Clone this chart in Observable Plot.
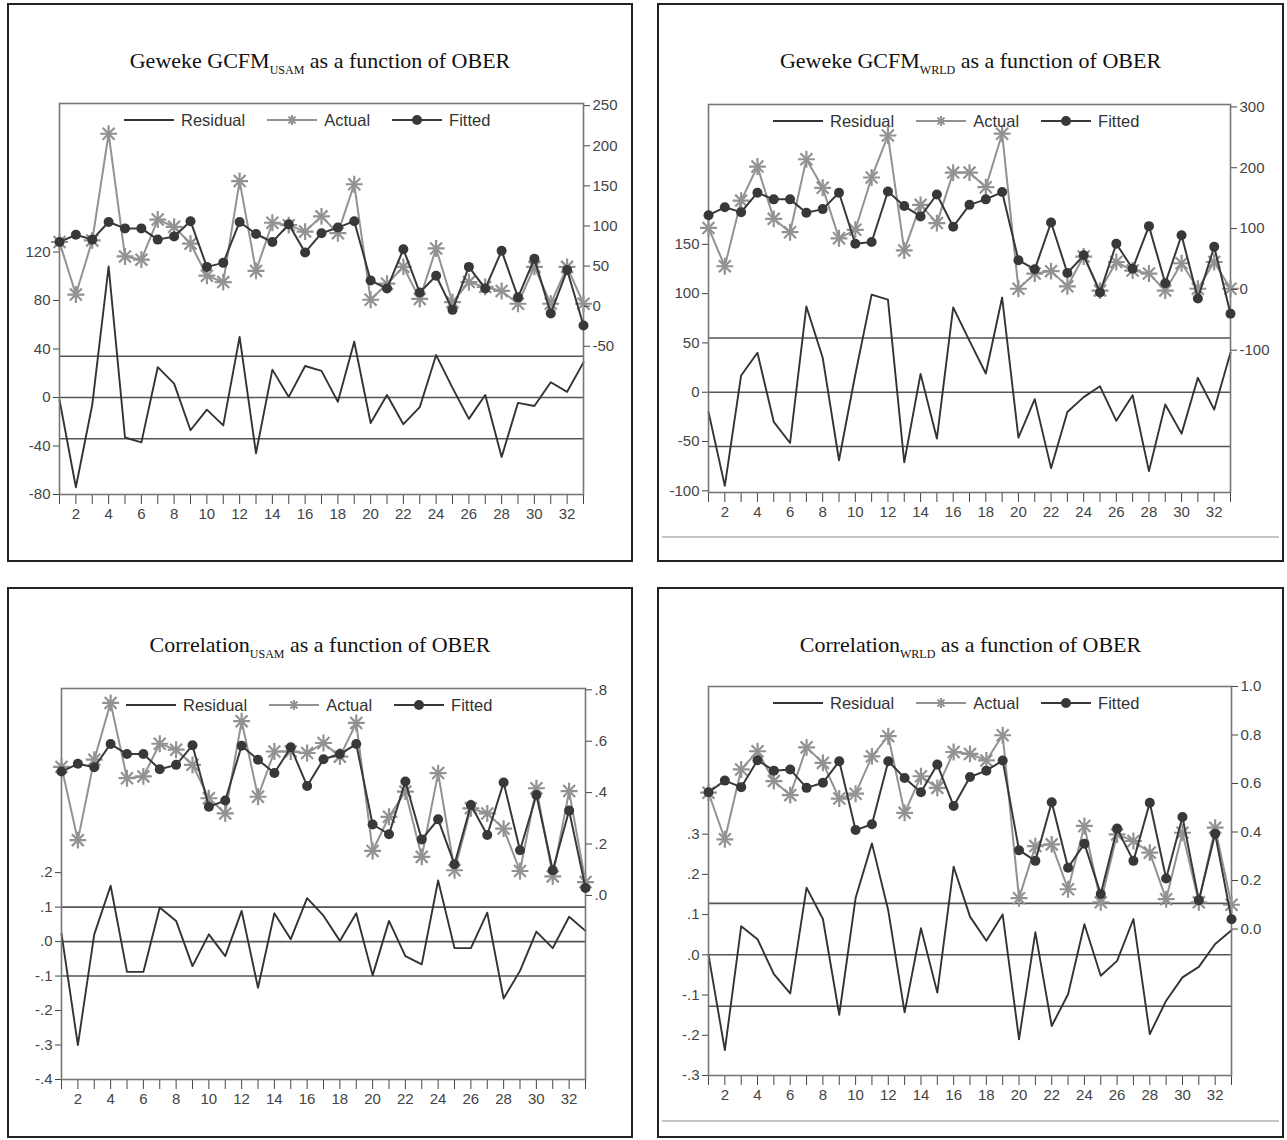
<!DOCTYPE html>
<html><head><meta charset="utf-8">
<script src="https://cdn.jsdelivr.net/npm/d3@7"></script>
<script src="https://cdn.jsdelivr.net/npm/@observablehq/plot@0.6"></script>
<style>
body{margin:0;background:#fff;}
#page{position:relative;width:1287px;height:1140px;overflow:hidden;background:#fff;}
.box{position:absolute;border:2.5px solid #222;box-sizing:border-box;}
.title{position:absolute;text-align:center;font-family:"Liberation Serif","Times New Roman",serif;font-size:22px;color:#111;line-height:26px;white-space:nowrap;}
.title sub{font-size:12px;vertical-align:-6px;line-height:0;}
.layer{position:absolute;}
.layer svg{max-width:none;overflow:visible;display:block;}
.legend{position:absolute;font-family:"Liberation Sans",Arial,sans-serif;font-size:16.5px;color:#333;white-space:nowrap;display:flex;align-items:center;height:20px;}
.legend span.t{margin-left:7px;margin-right:22px;}
.gray{position:absolute;height:2px;background:#c4c4c4;}
</style></head><body><div id="page"></div>
<script>
// ---------- categories ----------
const obs = [1,2,3,4,5,6,7,8,9,10,11,12,13,14,15,16,17,18,19,20,21,22,23,24,25,26,27,28,29,30,31,32,33];

// ---------- Geweke GCFM USAM ----------
const gewekeUsamActual   = [80,14.5,82,215,62,58,108,99,78,38,30,156,44,104,101,93,112,91,152,8,28,49,9,72,5,30,24,19,3,49,3,49,3];
const gewekeUsamFitted   = [80,89,83,105,97,97,83,87,106,49,54,105,90,80,102,67,91,98,106,32,22,71,17,38,-4.6,49,22,69,11,59,-9,45,-24];
const gewekeUsamResidual = [-2,-74,-6,108,-33,-37,25,11.5,-27,-10,-23,50,-46,23,0.5,26,22,-3.6,46,-21,2,-22,-8,35,8,-17.6,2,-49,-4.4,-7,12.6,4.7,29];
const gewekeUsamSE = 34;
const gewekeUsamLeftTicks  = [-80,-40,0,40,80,120];
const gewekeUsamRightTicks = [-50,0,50,100,150,200,250];

// ---------- Geweke GCFM WRLD ----------
const gewekeWrldActual   = [101,38,146,202,116,94,214,167,84,98,184,253,64,139,109,192,192,168,256,1,26,30,5,54,-2,45,31,26,-2,43,1,45,1];
const gewekeWrldFitted   = [122,135,127,159,148,148,126,132,159,75,78,161,137,120,156,103,139,148,160,48,33,110,27,56,-5,75,34,104,10,89,-15,70,-40];
const gewekeWrldResidual = [-20,-95,17,40,-30,-51.5,87,35,-69,18,99,94,-71,18.6,-47,86,52,19,96,-46,-7,-77,-20,-5,6,-29,-3,-80,-12.5,-42,14.6,-17.6,40];
const gewekeWrldSE = 55;
const gewekeWrldLeftTicks  = [-100,-50,0,50,100,150];
const gewekeWrldRightTicks = [-100,0,100,200,300];

// ---------- Correlation USAM ----------
const corrUsamActual   = [0.50,0.215,0.528,0.749,0.456,0.463,0.59,0.567,0.508,0.378,0.319,0.678,0.384,0.56,0.56,0.554,0.593,0.54,0.671,0.173,0.306,0.404,0.15,0.476,0.098,0.339,0.319,0.26,0.095,0.417,0.074,0.406,0.052];
const corrUsamFitted   = [0.482,0.512,0.499,0.589,0.55,0.55,0.491,0.508,0.584,0.345,0.369,0.582,0.528,0.476,0.576,0.426,0.53,0.55,0.589,0.276,0.238,0.443,0.218,0.296,0.121,0.352,0.235,0.439,0.176,0.391,0.098,0.33,0.029];
const corrUsamResidual = [0.023,-0.30,0.021,0.162,-0.088,-0.088,0.099,0.06,-0.071,0.021,-0.042,0.089,-0.134,0.082,0.007,0.126,0.075,0.002,0.082,-0.098,0.06,-0.042,-0.066,0.177,-0.019,-0.019,0.084,-0.165,-0.085,0.029,-0.019,0.072,0.031];
const corrUsamSE = 0.1;
const corrUsamLeftTicks  = [-0.4,-0.3,-0.2,-0.1,0,0.1,0.2];
const corrUsamRightTicks = [0,0.2,0.4,0.6,0.8];

// ---------- Correlation WRLD ----------
const corrWrldActual   = [0.562,0.37,0.658,0.733,0.61,0.552,0.749,0.685,0.538,0.558,0.712,0.795,0.479,0.63,0.582,0.73,0.722,0.695,0.799,0.127,0.342,0.349,0.164,0.425,0.11,0.39,0.363,0.315,0.123,0.397,0.11,0.418,0.10];
const corrWrldFitted   = [0.564,0.612,0.585,0.696,0.653,0.658,0.582,0.603,0.692,0.408,0.432,0.692,0.623,0.564,0.678,0.507,0.627,0.653,0.695,0.325,0.281,0.523,0.253,0.352,0.144,0.414,0.281,0.521,0.208,0.462,0.119,0.393,0.04];
const corrWrldResidual = [0.0,-0.237,0.071,0.039,-0.048,-0.096,0.167,0.089,-0.149,0.141,0.277,0.11,-0.143,0.066,-0.094,0.219,0.095,0.035,0.1,-0.21,0.056,-0.177,-0.098,0.076,-0.052,-0.015,0.089,-0.197,-0.114,-0.056,-0.03,0.027,0.061];
const corrWrldSE = 0.128;
const corrWrldLeftTicks  = [-0.3,-0.2,-0.1,0,0.1,0.2,0.3];
const corrWrldRightTicks = [0,0.2,0.4,0.6,0.8,1.0];

// ---------- formats ----------
const fmtInt = d => String(d);
const fmtEviews = d => (d < 0 ? "-" : "") + "." + Math.round(Math.abs(d) * 10);
const fmt1 = d3.format(".1f");
const evenLabel = d => d % 2 === 0 ? String(d) : "";

// ---------- panels (data + layout) ----------
const panels = [
  {title:"Geweke GCFM", sub:"USAM", actual:gewekeUsamActual, fitted:gewekeUsamFitted, residual:gewekeUsamResidual, se:gewekeUsamSE,
   leftTicks:gewekeUsamLeftTicks, leftFmt:fmtInt, rightTicks:gewekeUsamRightTicks, rightFmt:fmtInt,
   leftDomain:[-80,242.5], rightDomain:[-234.8,252.7],
   box:{x:7,y:3,w:626,h:559}, frame:{x0:59,x1:583,y0:103,y1:494}, grayLine:false},
  {title:"Geweke GCFM", sub:"WRLD", actual:gewekeWrldActual, fitted:gewekeWrldFitted, residual:gewekeWrldResidual, se:gewekeWrldSE,
   leftTicks:gewekeWrldLeftTicks, leftFmt:fmtInt, rightTicks:gewekeWrldRightTicks, rightFmt:fmtInt,
   leftDomain:[-101.7,291.8], rightDomain:[-334,304],
   box:{x:657,y:3,w:627,h:559}, frame:{x0:708,x1:1230,y0:104,y1:492}, grayLine:true},
  {title:"Correlation", sub:"USAM", actual:corrUsamActual, fitted:corrUsamFitted, residual:corrUsamResidual, se:corrUsamSE,
   leftTicks:corrUsamLeftTicks, leftFmt:fmtEviews, rightTicks:corrUsamRightTicks, rightFmt:fmtEviews,
   leftDomain:[-0.4,0.734], rightDomain:[-0.716,0.805],
   box:{x:7,y:587,w:626,h:551}, frame:{x0:61,x1:585,y0:688,y1:1079}, grayLine:false},
  {title:"Correlation", sub:"WRLD", actual:corrWrldActual, fitted:corrWrldFitted, residual:corrWrldResidual, se:corrWrldSE,
   leftTicks:corrWrldLeftTicks, leftFmt:fmtEviews, rightTicks:corrWrldRightTicks, rightFmt:fmt1,
   leftDomain:[-0.3,0.667], rightDomain:[-0.604,1.0],
   box:{x:657,y:587,w:627,h:551}, frame:{x0:708,x1:1231,y0:686,y1:1075}, grayLine:true}
];

const page = document.getElementById("page");
const series = vals => obs.map((o, i) => ({obs: o, v: vals[i]}));
const el = (cls, css) => { const d = document.createElement("div"); d.className = cls; Object.assign(d.style, css); page.appendChild(d); return d; };

const DARK = "#383838", GRAY = "#929292";

function legend(p) {
  const f = p.frame;
  const lg = el("legend", {left: (f.x0 + 65) + "px", top: (f.y0 + 7) + "px"});
  const sw = inner => `<svg width="50" height="14" style="display:block"><line x1="0" y1="7" x2="50" y2="7" stroke="${inner.c}" stroke-width="2"/>${inner.m}</svg>`;
  const star = `<g stroke="${GRAY}" stroke-width="2"><line x1="20" y1="7" x2="30" y2="7"/><line x1="25" y1="2" x2="25" y2="12"/><line x1="21.5" y1="3.5" x2="28.5" y2="10.5"/><line x1="21.5" y1="10.5" x2="28.5" y2="3.5"/></g>`;
  const circ = `<circle cx="25" cy="7" r="5" fill="${DARK}"/>`;
  lg.innerHTML = sw({c:"#333", m:""}) + `<span class="t">Residual</span>` +
                 sw({c:GRAY, m:star}) + `<span class="t">Actual</span>` +
                 sw({c:DARK, m:circ}) + `<span class="t">Fitted</span>`;
}

for (const p of panels) {
  const b = p.box, f = p.frame;
  el("box", {left: b.x + "px", top: b.y + "px", width: b.w + "px", height: b.h + "px"});
  if (p.grayLine) el("gray", {left: (b.x + 5) + "px", width: (b.w - 10) + "px", top: (b.y + 533) + "px"});
  const t = el("title", {left: b.x + "px", width: b.w + "px", top: (b.y + 45) + "px"});
  t.innerHTML = `${p.title}<sub>${p.sub}</sub> as a function of OBER`;

  const common = {
    width: b.w, height: b.h,
    marginLeft: f.x0 - b.x, marginRight: b.x + b.w - f.x1,
    marginTop: f.y0 - b.y, marginBottom: b.y + b.h - f.y1,
    style: {background: "transparent", fontFamily: "'Liberation Sans', Arial, sans-serif", fontSize: "15px", color: "#444", overflow: "visible"}
  };

  const leftPlot = Plot.plot({
    ...common,
    x: {type: "linear", domain: [1, 33]},
    y: {domain: p.leftDomain},
    marks: [
      Plot.ruleY([-p.se, 0, p.se], {stroke: "#555", strokeWidth: 1.6}),
      Plot.line(series(p.residual), {x: "obs", y: "v", stroke: "#333", strokeWidth: 1.9}),
      Plot.axisY({anchor: "left", ticks: p.leftTicks, tickFormat: p.leftFmt, tickSize: 6, tickPadding: 3, label: null}),
      Plot.axisX({ticks: obs, tickFormat: evenLabel, tickSize: 10, tickPadding: 4, label: null}),
      Plot.frame({stroke: "#777", strokeWidth: 1.6})
    ]
  });

  const rightPlot = Plot.plot({
    ...common,
    x: {type: "linear", domain: [1, 33], axis: null},
    y: {domain: p.rightDomain},
    marks: [
      Plot.line(series(p.actual), {x: "obs", y: "v", stroke: GRAY, strokeWidth: 2}),
      Plot.dot(series(p.actual), {x: "obs", y: "v", symbol: "plus", r: 5.5, stroke: GRAY, strokeWidth: 2.2}),
      Plot.dot(series(p.actual), {x: "obs", y: "v", symbol: "times", r: 5.5, stroke: GRAY, strokeWidth: 2.2}),
      Plot.line(series(p.fitted), {x: "obs", y: "v", stroke: DARK, strokeWidth: 2}),
      Plot.dot(series(p.fitted), {x: "obs", y: "v", r: 5, fill: DARK, stroke: "none"}),
      Plot.axisY({anchor: "right", ticks: p.rightTicks, tickFormat: p.rightFmt, tickSize: 6, tickPadding: 3, label: null})
    ]
  });

  const l1 = el("layer", {left: b.x + "px", top: b.y + "px"});
  l1.appendChild(leftPlot);
  const l2 = el("layer", {left: b.x + "px", top: b.y + "px"});
  l2.appendChild(rightPlot);
  legend(p);
}
</script></body></html>
